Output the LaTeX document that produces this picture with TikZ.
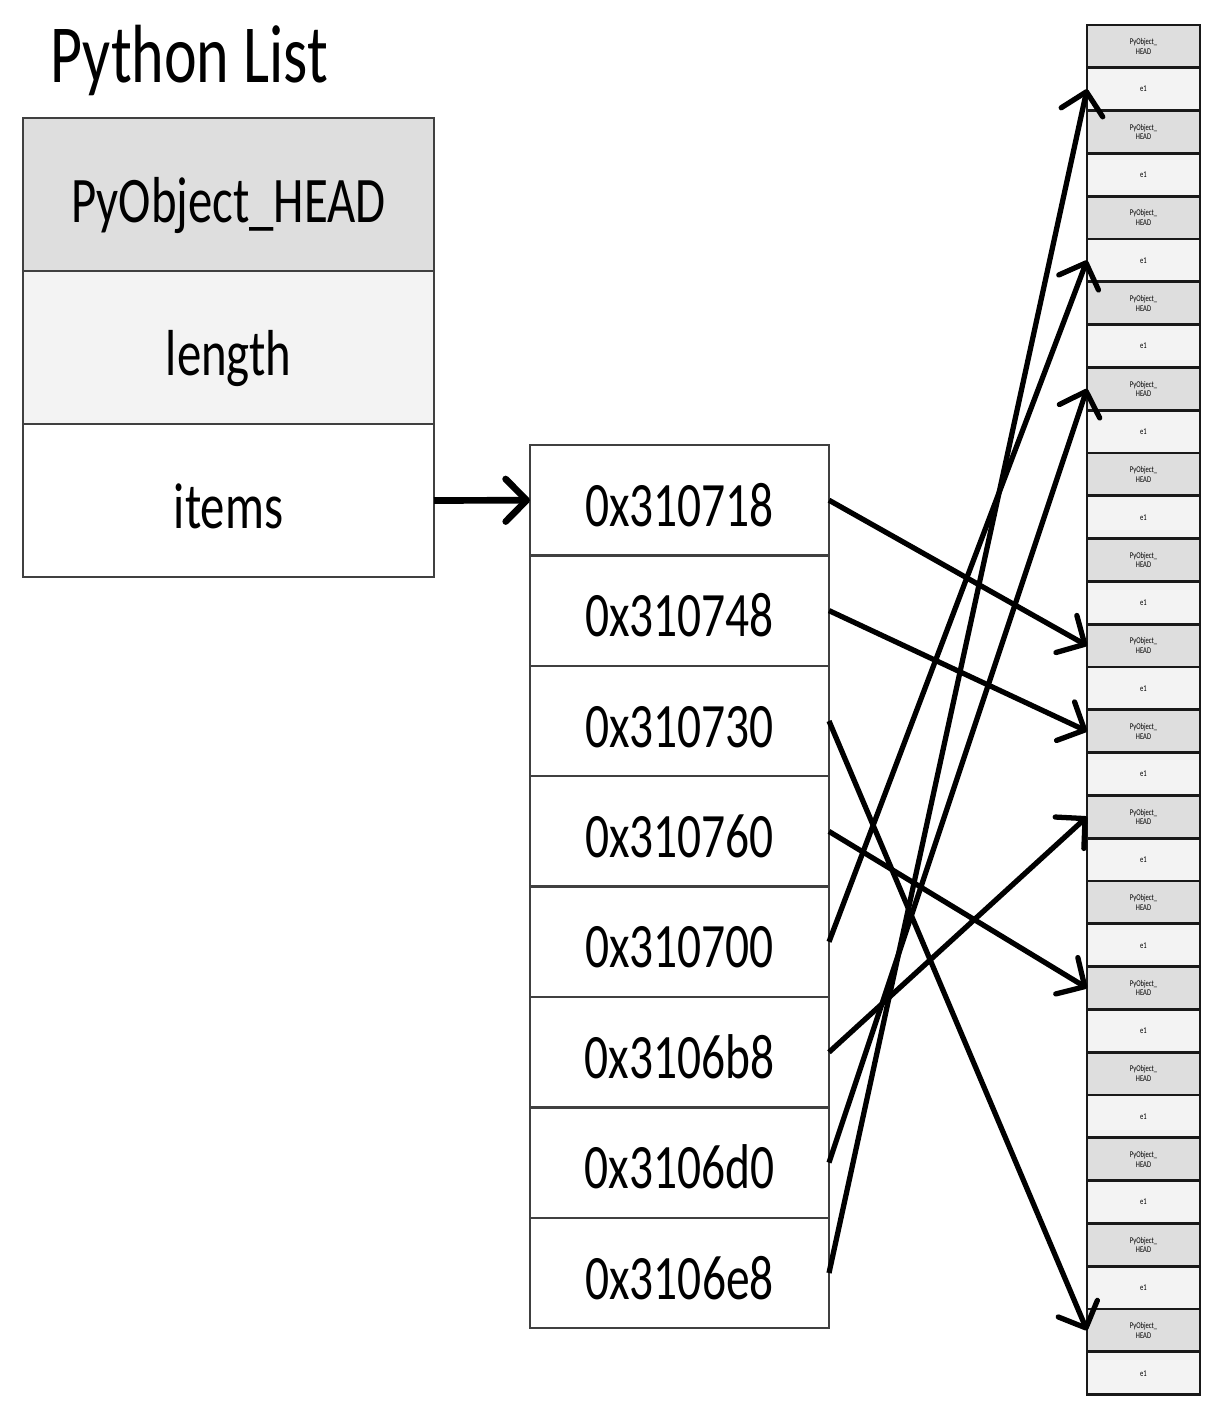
\documentclass[tikz,border=0pt]{standalone}
\usepackage{fontspec}
\setmainfont{Carlito}[FakeStretch=0.75]
\usepackage{xcolor}
\usetikzlibrary{positioning,arrows.meta}

\definecolor{headgray}{RGB}{222,222,222}
\definecolor{lengray}{RGB}{243,243,243}

\begin{document}
\begin{tikzpicture}[
    node distance=0pt,
    listbox/.style={rectangle, draw=black!75, line width=1.4pt, inner sep=0pt, outer sep=0pt, minimum width=8.22cm, minimum height=3.06cm, text height=1.12cm, text depth=0pt, font=\fontsize{37}{40}\selectfont},
    addr/.style={rectangle, draw=black!75, line width=1.4pt, fill=white, inner sep=0pt, outer sep=0pt, minimum width=5.98cm, minimum height=2.208cm, text height=1.04cm, text depth=0pt, font=\fontsize{36}{40}\selectfont},
    headcell/.style={rectangle, draw=black!90, line width=1.6pt, fill=headgray, inner sep=0pt, outer sep=0pt, minimum width=2.26cm, minimum height=0.856cm, align=center, font=\fontsize{5}{5.5}\selectfont},
    valcell/.style={headcell, fill=lengray},
    arrow/.style={-{Straight Barb[length=0.42cm, width=0.85cm, round]}, line width=3pt},
]
    \useasboundingbox (0,0) rectangle (24.24,-28.12);

    % the list object
    \node[anchor=base west, inner sep=0pt, font=\fontsize{47}{50}\selectfont] (title) at (1.0,-1.66) {Python List};
    \node[listbox, fill=headgray] (head) at (4.57,-3.89) {PyObject\_HEAD};
    \node[listbox, fill=lengray, below=of head] (len) {length};
    \node[listbox, fill=white, below=of len] (items) {items};

    % the pointer array
    \node[addr] (p1) at (13.59,-10.004) {0x310718};
    \node[addr, below=of p1] (p2) {0x310748};
    \node[addr, below=of p2] (p3) {0x310730};
    \node[addr, below=of p3] (p4) {0x310760};
    \node[addr, below=of p4] (p5) {0x310700};
    \node[addr, below=of p5] (p6) {0x3106b8};
    \node[addr, below=of p6] (p7) {0x3106d0};
    \node[addr, below=of p7] (p8) {0x3106e8};

    % memory cells
    \foreach \k in {1,3,...,31}
        \node[headcell] (m\k) at (22.87,{-0.928-0.856*(\k-1)}) {PyObject\_\\HEAD};
    \foreach \k in {2,4,...,32}
        \node[valcell] (m\k) at (22.87,{-0.928-0.856*(\k-1)}) {e1};

    \draw[arrow, line width=3.8pt] (items.east) -- (p1.west);
    \draw[arrow] (p1.east) -- (m15.west);
    \draw[arrow] (p2.east) -- (m17.west);
    \draw[arrow] (p3.east) -- (m31.west);
    \draw[arrow] (p4.east) -- (m23.west);
    \draw[arrow] (p5.east) -- (m6.west);
    \draw[arrow] (p6.east) -- (m19.west);
    \draw[arrow] (p7.east) -- (m9.west);
    \draw[arrow] (p8.east) -- (m2.west);
\end{tikzpicture}
\end{document}
